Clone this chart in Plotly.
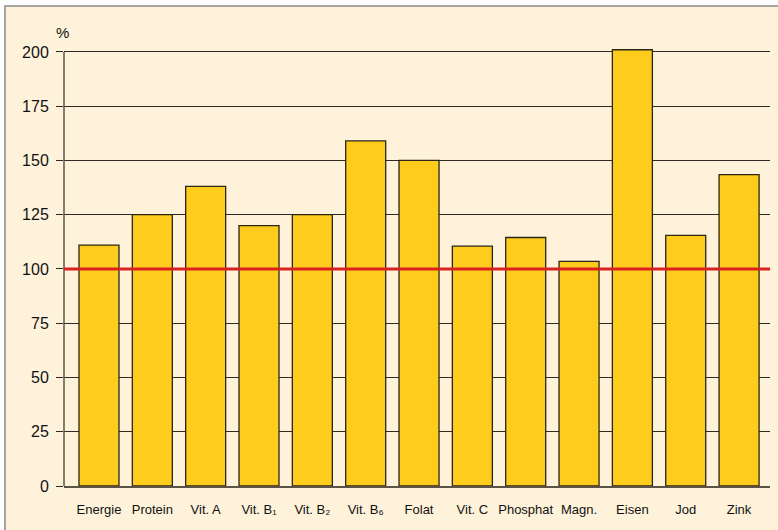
import plotly.graph_objects as go

# Nährstoffzufuhr in % der Referenzwerte
categories = ["Energie", "Protein", "Vit. A", "Vit. B₁", "Vit. B₂",
              "Vit. B₆", "Folat", "Vit. C", "Phosphat", "Magn.",
              "Eisen", "Jod", "Zink"]
values = [111, 125, 138, 120, 125, 159, 150, 110.5, 114.5, 103.5, 201, 115.5, 143.5]
y_ticks = [0, 25, 50, 75, 100, 125, 150, 175, 200]
reference_level = 100

BG = "#FEF3DA"
BAR = "#FDCC1C"
AXIS = "#5a5346"
FONT = "Liberation Sans, Arial, DejaVu Sans, sans-serif"

fig = go.Figure()
fig.add_trace(go.Bar(
    x=list(range(len(categories))),
    y=values,
    width=0.75,
    marker=dict(color=BAR, line=dict(color="#2b2514", width=1.3)),
    hoverinfo="skip",
))

# framed panel behind the chart
fig.add_shape(type="rect", xref="paper", yref="paper",
              x0=-0.0836, x1=1.03, y0=-0.122, y1=1.0835,
              line=dict(color="#8a8a8a", width=1.5), fillcolor=BG, layer="below")

# vertical axis line, only up to the top tick
fig.add_shape(type="line", xref="paper", yref="y",
              x0=0, x1=0, y0=0, y1=y_ticks[-1],
              line=dict(color=AXIS, width=1.5), layer="above")

# 100 % reference line
fig.add_shape(type="line", xref="paper", yref="y",
              x0=0, x1=1, y0=reference_level, y1=reference_level,
              line=dict(color="#D9211E", width=3), layer="above")

fig.add_annotation(text="%", xref="paper", yref="paper", x=-0.002, y=1.0226,
                   xanchor="center", yanchor="middle", showarrow=False,
                   font=dict(family=FONT, size=15, color="#111"))

fig.update_layout(
    width=778, height=530,
    margin=dict(l=64, r=8, t=43, b=44),
    paper_bgcolor="white",
    plot_bgcolor="rgba(0,0,0,0)",
    showlegend=False,
    font=dict(family=FONT, color="#111"),
    bargap=0.25,
)
fig.update_xaxes(
    range=[-0.656, 12.58],
    tickmode="array",
    tickvals=list(range(len(categories))),
    ticktext=categories,
    tickfont=dict(size=13, color="#111"),
    showgrid=False,
    showline=True, linecolor=AXIS, linewidth=1.5,
    ticks="outside", ticklen=11, tickcolor="rgba(0,0,0,0)",
    zeroline=False,
)
fig.update_yaxes(
    range=[0, 204.1],
    tickmode="array",
    tickvals=y_ticks,
    tickfont=dict(size=16, color="#111"),
    showgrid=True, gridcolor="#2e2a22", gridwidth=1.3,
    showline=False,
    ticks="outside", ticklen=7, tickcolor="#2e2a22", tickwidth=1.3,
    ticklabelstandoff=4,
    zeroline=False,
)

fig.write_html("out.html")
